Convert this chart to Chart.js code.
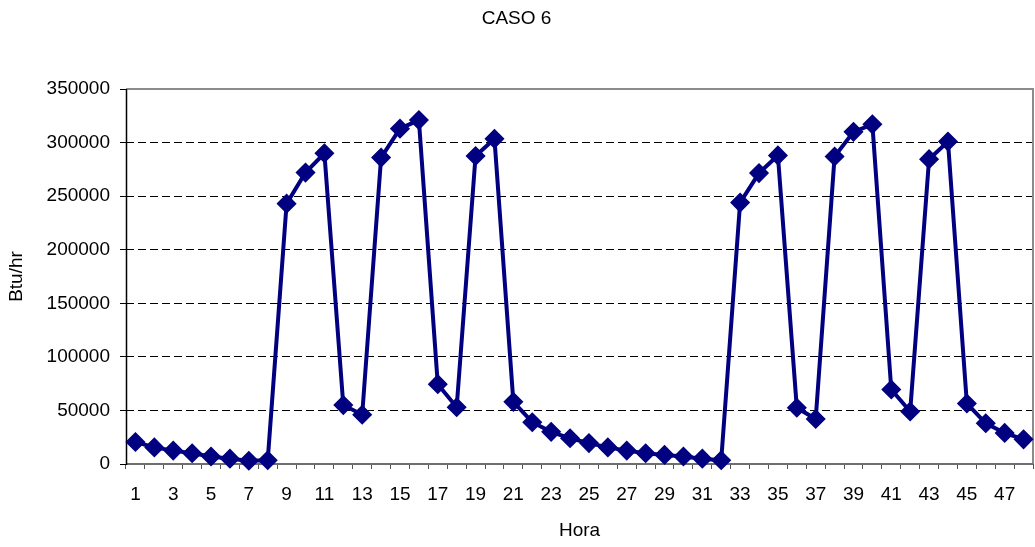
<!DOCTYPE html>
<html>
<head>
<meta charset="utf-8">
<title>CASO 6</title>
<script src="https://cdn.jsdelivr.net/npm/chart.js@4/dist/chart.umd.min.js"></script>
<style>
  html, body { margin: 0; padding: 0; background: #fff; }
  #wrap { width: 1035px; height: 547px; }
</style>
</head>
<body>
<div id="wrap"><canvas id="c" width="1035" height="547"></canvas></div>
<script>
// Hourly load over two days
const horas = [
  1, 2, 3, 4, 5, 6, 7, 8, 9, 10, 11, 12, 13, 14, 15, 16,
  17, 18, 19, 20, 21, 22, 23, 24, 25, 26, 27, 28, 29, 30, 31, 32,
  33, 34, 35, 36, 37, 38, 39, 40, 41, 42, 43, 44, 45, 46, 47, 48
];
const cargaBtuHr = [
  20500, 15500, 12500, 10000, 7000, 5000, 3000, 3500,
  243000, 272000, 290000, 55000, 46000, 286000, 313000, 321000,
  74500, 53000, 287500, 303500, 58000, 39000, 30000, 24000,
  19500, 15500, 12500, 10000, 8500, 7000, 5000, 3500,
  244000, 271500, 288000, 52500, 42000, 287000, 310000, 317000,
  69500, 49000, 284500, 301000, 56500, 38000, 29000, 23000
];
const yTicks = [0, 50000, 100000, 150000, 200000, 250000, 300000, 350000];

const FONT = 'Liberation Sans, Arial, sans-serif';
const FSIZE = 19;

// Plot-area frame and axis lines drawn under the series
const frame = {
  id: 'frame',
  beforeDatasetsDraw(chart) {
    const { ctx, chartArea: a } = chart;
    ctx.save();
    ctx.lineWidth = 2;
    ctx.strokeStyle = '#8c8c8c';
    ctx.beginPath();
    ctx.moveTo(a.left, a.top);
    ctx.lineTo(a.right, a.top);
    ctx.lineTo(a.right, a.bottom);
    ctx.stroke();
    ctx.strokeStyle = '#6e6e6e';
    ctx.beginPath();
    ctx.moveTo(a.left, a.bottom);
    ctx.lineTo(a.right, a.bottom);
    ctx.stroke();
    ctx.lineWidth = 1.5;
    ctx.strokeStyle = '#000';
    ctx.beginPath();
    ctx.moveTo(a.left + 0.5, a.top);
    ctx.lineTo(a.left + 0.5, a.bottom + 1);
    ctx.stroke();
    ctx.restore();
  }
};

new Chart(document.getElementById('c'), {
  type: 'line',
  data: {
    labels: horas,
    datasets: [{
      data: cargaBtuHr,
      borderColor: '#000080',
      backgroundColor: '#000080',
      borderWidth: 4,
      pointStyle: 'rectRot',
      pointRadius: 9,
      pointBorderWidth: 1.5,
      pointBackgroundColor: '#000080',
      pointBorderColor: '#000080',
      tension: 0,
      clip: false
    }]
  },
  options: {
    responsive: false,
    animation: false,
    layout: { autoPadding: false, padding: { left: 0, right: 2, top: 0, bottom: 0 } },
    plugins: {
      legend: { display: false },
      tooltip: { enabled: false },
      title: {
        display: true,
        text: 'CASO 6',
        color: '#000',
        font: { family: FONT, size: FSIZE, weight: 'normal' },
        padding: { top: 7.5, bottom: 58.7 }
      }
    },
    scales: {
      x: {
        type: 'category',
        offset: true,
        afterFit(s) { s.height = 83; s.paddingLeft = 0; s.paddingRight = 0; },
        grid: {
          display: true,
          offset: true,
          drawOnChartArea: false,
          drawTicks: true,
          tickLength: 5,
          tickColor: '#555',
          tickWidth: 1
        },
        border: { display: false },
        ticks: {
          autoSkip: false,
          maxRotation: 0,
          padding: 14,
          color: '#000',
          font: { family: FONT, size: FSIZE },
          callback(v, i) { return i % 2 === 0 ? String(horas[i]) : ''; }
        },
        title: {
          display: true,
          text: 'Hora',
          color: '#000',
          font: { family: FONT, size: FSIZE },
          padding: { top: 0, bottom: 5 }
        }
      },
      y: {
        min: 0,
        max: 350000,
        afterFit(s) { s.width = 126; s.paddingTop = 0; s.paddingBottom = 0; },
        afterBuildTicks(s) { s.ticks = yTicks.map(v => ({ value: v })); },
        grid: {
          drawTicks: true,
          tickLength: 6,
          tickColor: '#000',
          color(ctx) {
            const v = ctx.tick ? ctx.tick.value : null;
            return (v === 0 || v === 350000) ? 'rgba(0,0,0,0)' : '#000';
          },
          lineWidth: 1
        },
        border: { display: false, dash: [8, 4] },
        ticks: {
          padding: 10,
          color: '#000',
          font: { family: FONT, size: FSIZE },
          callback(v) { return String(v); }
        },
        title: {
          display: true,
          text: 'Btu/hr',
          color: '#000',
          font: { family: FONT, size: FSIZE },
          padding: { top: 5.3, bottom: 0 }
        }
      }
    }
  },
  plugins: [frame]
});
</script>
</body>
</html>
